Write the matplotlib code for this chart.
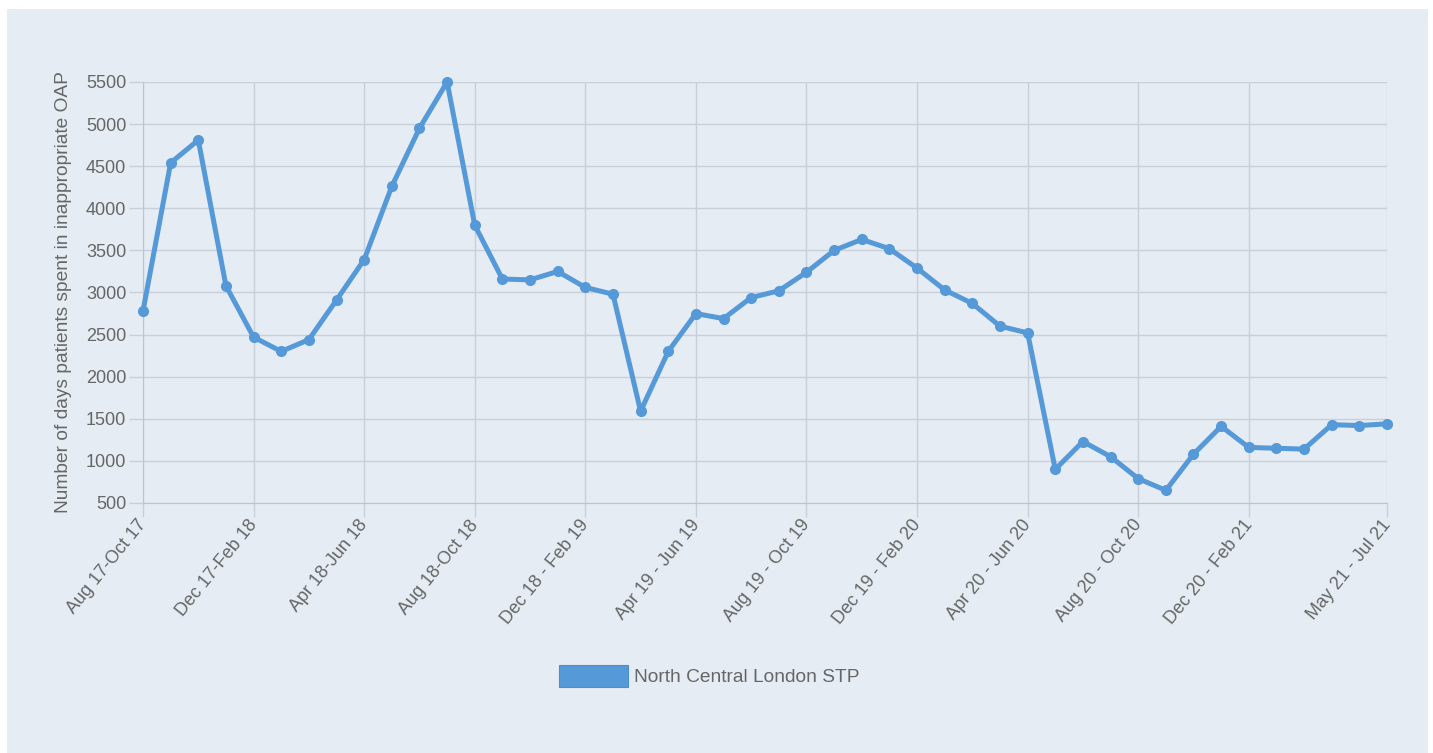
import numpy as np
import matplotlib
matplotlib.use("Agg")
from matplotlib import pyplot as plt
from matplotlib.patches import Rectangle, Patch
from matplotlib.transforms import ScaledTranslation

plt.rcParams['font.family'] = ['Liberation Sans', 'DejaVu Sans']

# rolling three-month periods
periods = [
    "Aug 17-Oct 17", "Sep 17-Nov 17", "Oct 17-Dec 17", "Nov 17-Jan 18",
    "Dec 17-Feb 18", "Jan 18-Mar 18", "Feb 18-Apr 18", "Mar 18-May 18",
    "Apr 18-Jun 18", "May 18-Jul 18", "Jun 18-Aug 18", "Jul 18-Sep 18",
    "Aug 18-Oct 18", "Sep 18 - Nov 18", "Oct 18 - Dec 18", "Nov 18 - Jan 19",
    "Dec 18 - Feb 19", "Jan 19 - Mar 19", "Feb 19 - Apr 19", "Mar 19 - May 19",
    "Apr 19 - Jun 19", "May 19 - Jul 19", "Jun 19 - Aug 19", "Jul 19 - Sep 19",
    "Aug 19 - Oct 19", "Sep 19 - Nov 19", "Oct 19 - Dec 19", "Nov 19 - Jan 20",
    "Dec 19 - Feb 20", "Jan 20 - Mar 20", "Feb 20 - Apr 20", "Mar 20 - May 20",
    "Apr 20 - Jun 20", "May 20 - Jul 20", "Jun 20 - Aug 20", "Jul 20 - Sep 20",
    "Aug 20 - Oct 20", "Sep 20 - Nov 20", "Oct 20 - Dec 20", "Nov 20 - Jan 21",
    "Dec 20 - Feb 21", "Jan 21 - Mar 21", "Feb 21 - Apr 21", "Mar 21 - May 21",
    "Apr 21 - Jun 21", "May 21 - Jul 21",
]

days_oap = [
    2780, 4540, 4810, 3080, 2470, 2300, 2440, 2910, 3390, 4260, 4950, 5500,
    3800, 3160, 3150, 3250, 3060, 2980, 1590, 2300, 2750, 2690, 2940, 3020,
    3240, 3500, 3630, 3520, 3290, 3030, 2870, 2600, 2520, 900, 1230, 1050,
    790, 650, 1080, 1410, 1160, 1150, 1140, 1430, 1420, 1440,
]

series_name = "North Central London STP"
y_label = "Number of days patients spent in inappropriate OAP"
y_ticks = [500, 1000, 1500, 2000, 2500, 3000, 3500, 4000, 4500, 5000, 5500]

line_col = '#5599d8'
grid_col = '#c8cfd8'
text_col = '#666666'
panel_col = '#e5ecf3'

W, H = 1433, 753
fig = plt.figure(figsize=(W / 100, H / 100), dpi=100, facecolor='white')
fig.patches.append(Rectangle((7 / W, 0), (1428 - 7) / W, (H - 9) / H,
                             transform=fig.transFigure, facecolor=panel_col,
                             edgecolor='none', zorder=-10))

ax = fig.add_axes([143 / W, 1 - 503 / H, (1387 - 143) / W, (503 - 82) / H])
ax.set_facecolor('none')

x = np.arange(len(periods))
ax.plot(x, days_oap, color=line_col, lw=3.6, marker='o', markersize=8,
        markeredgewidth=0, zorder=3, clip_on=False)

ax.set_xlim(0, len(periods) - 1)
ax.set_ylim(y_ticks[0], y_ticks[-1])

ax.grid(True, color=grid_col, lw=1)
ax.set_axisbelow(True)
ax.tick_params(axis='both', length=10, width=1, color=grid_col, pad=2)
for s in ['top', 'right']:
    ax.spines[s].set_visible(False)
for s in ['left', 'bottom']:
    ax.spines[s].set_color('#bcc4cc')

tick_idx = list(range(0, len(periods) - 2, 4)) + [len(periods) - 1]
ax.set_xticks(tick_idx)
ax.set_xticklabels([periods[i] for i in tick_idx], rotation=51, ha='right',
                   rotation_mode='anchor', fontsize=13, color=text_col)
ax.set_yticks(y_ticks)
ax.set_yticklabels([str(v) for v in y_ticks], fontsize=13, color=text_col)

# nudge rotated labels so they end at the tick, like the original
shift = ScaledTranslation(-6 / 100, 3 / 100, fig.dpi_scale_trans)
for lbl in ax.get_xticklabels():
    lbl.set_transform(lbl.get_transform() + shift)

ax.set_ylabel(y_label, fontsize=13.8, color=text_col, labelpad=10)

fig.legend(handles=[Patch(facecolor=line_col, edgecolor='#4a8fd0', lw=0.8, label=series_name)],
           loc='center', bbox_to_anchor=(709 / W, 1 - 676 / H), frameon=False,
           fontsize=13.8, handlelength=3.6, handleheight=1.4, handletextpad=0.3,
           labelcolor=text_col)

fig.savefig('out.png', dpi=100, facecolor='white')
